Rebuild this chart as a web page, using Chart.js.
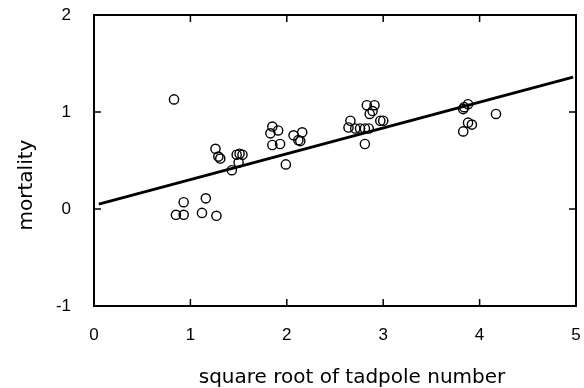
<!DOCTYPE html>
<html>
<head>
<meta charset="utf-8">
<script src="https://cdn.jsdelivr.net/npm/chart.js@4"></script>
<style>
  html, body { margin: 0; padding: 0; background: #fff; }
  #wrap { width: 584px; height: 388px; }
</style>
</head>
<body>
<div id="wrap"><canvas id="mainChart" width="584" height="388"></canvas></div>
<script>
// square root of tadpole number vs mortality
const sqrtNumber = [0.83, 0.93, 0.85, 0.93, 1.16, 1.12, 1.27, 1.26, 1.29, 1.31,
    1.43, 1.48, 1.51, 1.54, 1.50, 1.85, 1.83, 1.91, 1.85, 1.93, 1.99, 2.07, 2.16,
    2.12, 2.14, 2.66, 2.64, 2.71, 2.76, 2.81, 2.85, 2.81, 2.83, 2.91, 2.86, 2.89,
    2.97, 3.00, 3.84, 3.88, 3.83, 3.88, 3.92, 3.83, 4.17];
const mortality = [1.13, 0.07, -0.06, -0.06, 0.11, -0.04, -0.07, 0.62, 0.54, 0.52,
    0.40, 0.56, 0.57, 0.56, 0.48, 0.85, 0.78, 0.81, 0.66, 0.67, 0.46, 0.76, 0.79,
    0.71, 0.70, 0.91, 0.84, 0.83, 0.83, 0.83, 0.83, 0.67, 1.07, 1.07, 0.98, 1.01,
    0.91, 0.91, 1.05, 1.08, 1.03, 0.89, 0.87, 0.80, 0.98];

// fitted regression line end points
const fitX = [0.05, 4.97];
const fitY = [0.05, 1.36];

const xTicks = [0, 1, 2, 3, 4, 5];
const yTicks = [-1, 0, 1, 2];

const xTitle = 'square root of tadpole number';
const yTitle = 'mortality';


// box round the plot with inward ticks, tick labels and the two axis titles
const framePlugin = {
    id: 'frame',
    afterDraw(chart) {
        const ctx = chart.ctx;
        const a = chart.chartArea;
        const xs = chart.scales.x;
        const ys = chart.scales.y;
        const len = 7;
        ctx.save();
        ctx.strokeStyle = '#000';
        ctx.lineWidth = 2;
        ctx.strokeRect(a.left, a.top, a.right - a.left, a.bottom - a.top);
        ctx.lineWidth = 1.5;
        ctx.beginPath();
        xTicks.slice(1, -1).forEach(v => {
            const px = xs.getPixelForValue(v);
            ctx.moveTo(px, a.bottom); ctx.lineTo(px, a.bottom - len);
            ctx.moveTo(px, a.top); ctx.lineTo(px, a.top + len);
        });
        yTicks.slice(1, -1).forEach(v => {
            const py = ys.getPixelForValue(v);
            ctx.moveTo(a.left, py); ctx.lineTo(a.left + len, py);
            ctx.moveTo(a.right, py); ctx.lineTo(a.right - len, py);
        });
        ctx.stroke();

        ctx.fillStyle = '#000';
        ctx.font = '17px "Liberation Sans"';
        ctx.textBaseline = 'middle';
        ctx.textAlign = 'center';
        xTicks.forEach(v => ctx.fillText(String(v), xs.getPixelForValue(v), a.bottom + 29));
        ctx.textAlign = 'right';
        yTicks.forEach(v => ctx.fillText(String(v), a.left - 23, ys.getPixelForValue(v)));

        ctx.font = '20px "DejaVu Sans"';
        ctx.textAlign = 'center';
        ctx.textBaseline = 'alphabetic';
        ctx.fillText(xTitle, 352, 383);
        ctx.translate(32, 185);
        ctx.rotate(-Math.PI / 2);
        ctx.fillText(yTitle, 0, 0);
        ctx.restore();
    }
};

const ctx = document.getElementById('mainChart').getContext('2d');
const mainChart = new Chart(ctx, {
    type: 'scatter',
    data: {
        datasets: [{
            label: 'observed',
            data: sqrtNumber.map((x, i) => ({ x: x, y: mortality[i] })),
            pointStyle: 'circle',
            pointRadius: 4.6,
            borderWidth: 1.4,
            borderColor: '#000',
            backgroundColor: 'rgba(0,0,0,0)'
        }, {
            label: 'fit',
            type: 'line',
            data: fitX.map((x, i) => ({ x: x, y: fitY[i] })),
            borderColor: '#000',
            borderWidth: 3,
            pointRadius: 0,
            fill: false
        }]
    },
    options: {
        responsive: false,
        animation: false,
        events: [],
        layout: { padding: { left: 0, top: 15, right: 8, bottom: 0 } },
        plugins: {
            legend: { display: false },
            tooltip: { enabled: false }
        },
        scales: {
            x: {
                type: 'linear',
                min: 0,
                max: 5,
                afterBuildTicks: s => { s.ticks = xTicks.map(v => ({ value: v })); },
                afterFit: s => { s.height = 82; },
                grid: { display: false, drawTicks: false },
                border: { display: false },
                ticks: { display: false }
            },
            y: {
                type: 'linear',
                min: -1,
                max: 2,
                afterBuildTicks: s => { s.ticks = yTicks.map(v => ({ value: v })); },
                afterFit: s => { s.width = 94; },
                grid: { display: false, drawTicks: false },
                border: { display: false },
                ticks: { display: false }
            }
        }
    },
    plugins: [framePlugin]
});
</script>
</body>
</html>
